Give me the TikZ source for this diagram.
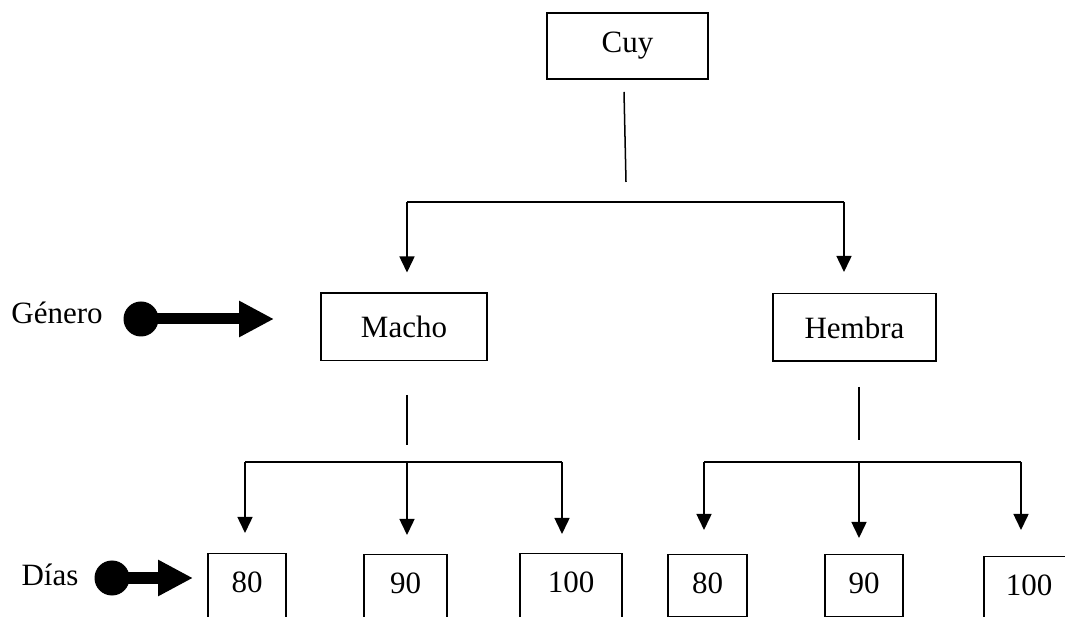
\documentclass[tikz,border=0pt]{standalone}
\usepackage{fontspec}
\setmainfont{Liberation Serif}
\usetikzlibrary{arrows.meta, positioning}

\begin{document}
\begin{tikzpicture}[x=0.4pt,y=-0.4pt,line width=0.6pt,font=\fontsize{12.4}{15}\selectfont]
    \tikzstyle{box}=[draw, rectangle, inner sep=0pt, minimum height=27pt]
    \tikzstyle{daybox}=[draw, rectangle, anchor=north, inner sep=0pt, text height=15.6pt]
    \tikzstyle{branch}=[-{Triangle[length=6.4pt,width=6pt]}]
    \tikzstyle{dot}=[circle, fill, minimum size=14pt, inner sep=0pt]
    \tikzstyle{bigarrow}=[line width=4.4pt, -{Triangle[length=14pt,width=13.6pt]}]

    \clip (0,0) rectangle (1065,617);

    % Draw the root and the gender nodes
    \node[box, minimum width=64.4pt, minimum height=26.4pt] (cuy) at (627.5,46) {Cuy};
    \node[box, minimum width=66.4pt] (macho) at (404,327) {Macho};
    \node[box, minimum width=65.2pt] (hembra) at (854.5,327.5) {Hembra};

    % Draw the day nodes (some run past the bottom edge)
    \foreach \name/\x/\y/\w/\d/\val in {m80/247/553/31.2/15.2/80, m90/405.5/554/33.2/15.2/90, m100/571/553/40.8/15.2/100, h80/707.5/554/31.6/9.2/80, h90/864/554/31.2/9.2/90, h100/1029/556/36/15.2/100}
        \node[daybox, minimum width=\w pt, text depth=\d pt] (\name) at (\x,\y) {\val};

    % Side labels with the thick arrows
    \node (genero) at (57,313) {Género};
    \node[dot] (gdot) at (141,319) {};
    \coordinate (gtip) at (274,319);
    \draw[bigarrow] (gdot.center) -- (gtip);

    \node (dias) at (50,575) {Días};
    \node[dot] (ddot) at (112,578) {};
    \coordinate (dtip) at (193,578);
    \draw[bigarrow] (ddot.center) -- (dtip);

    % Stem and bar under the root
    \coordinate (cuystem1) at (624,92);
    \coordinate (cuystem2) at (626,182);
    \coordinate (top1) at (407,202);
    \coordinate (top2) at (844,202);
    \draw (cuystem1) -- (cuystem2);
    \draw (top1) -- (top2);
    \draw[branch, shorten >=8pt] (top1) -- (top1 |- macho.north);
    \draw[branch, shorten >=8.4pt] (top2) -- (top2 |- hembra.north);

    % Stems and bars under the genders
    \coordinate (mstem1) at (407,395);
    \coordinate (mstem2) at (407,445);
    \coordinate (hstem1) at (859,387);
    \coordinate (hstem2) at (859,440);
    \coordinate (mb1) at (245,462);
    \coordinate (mb2) at (407,462);
    \coordinate (mb3) at (562,462);
    \coordinate (hb1) at (704,462);
    \coordinate (hb2) at (859,462);
    \coordinate (hb3) at (1021,462);
    \draw (mstem1) -- (mstem2);
    \draw (hstem1) -- (hstem2);
    \draw (mb1) -- (mb3);
    \draw (hb1) -- (hb3);

    \foreach \b/\n/\g in {mb1/m80/8, mb2/m90/7.6, mb3/m100/7.6, hb1/h80/9.6, hb2/h90/6.4, hb3/h100/10.4}
        \draw[branch, shorten >=\g pt] (\b) -- (\b |- \n.north);
\end{tikzpicture}
\end{document}
